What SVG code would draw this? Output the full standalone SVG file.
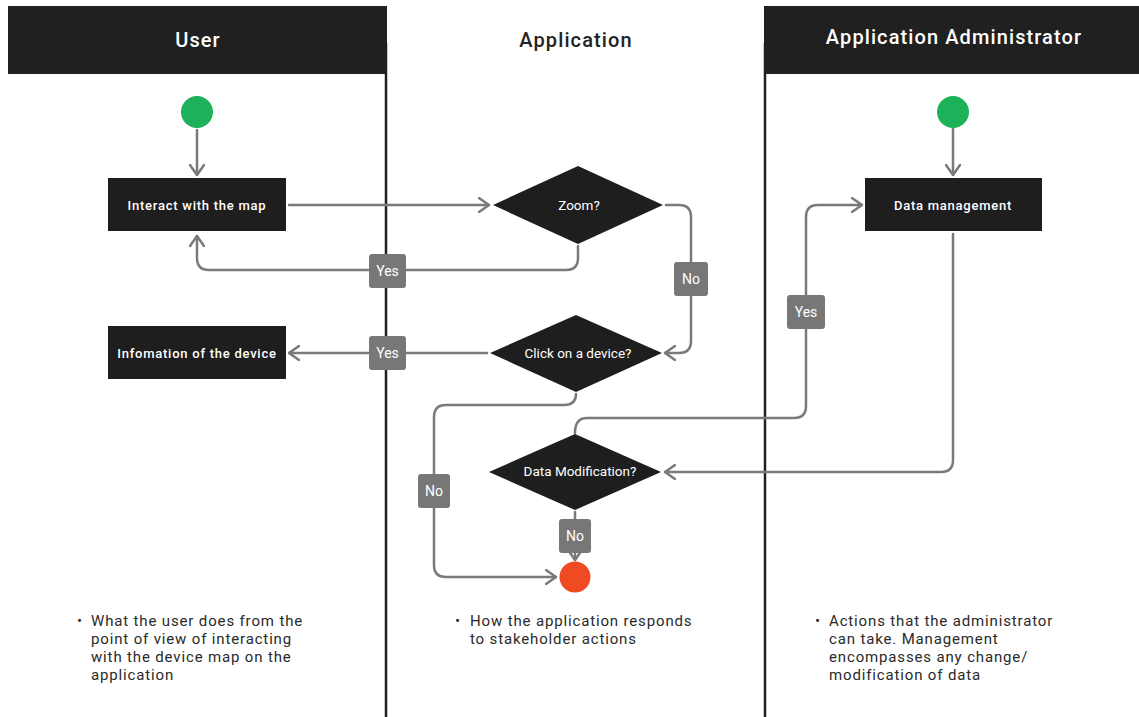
<svg xmlns="http://www.w3.org/2000/svg" width="1139" height="717" viewBox="0 0 1139 717">
<style>
.hdr{fill:#202020}
.lane{stroke:#202020;stroke-width:2.5}
.ht{font-family:Roboto,"Liberation Sans",sans-serif;font-size:20px;font-weight:500;text-anchor:middle;letter-spacing:1.1px}
.box{fill:#1e1e1e}
.nt{font-family:Roboto,"Liberation Sans",sans-serif;font-size:13px;font-weight:500;fill:#fff;text-anchor:middle;dominant-baseline:central;letter-spacing:0.75px}
.dt{font-family:Roboto,"Liberation Sans",sans-serif;font-size:13.5px;fill:#fff;text-anchor:middle;dominant-baseline:central}
.c{fill:none;stroke:#7a7a7a;stroke-width:2.5;stroke-linecap:round;stroke-linejoin:round}
.lb{fill:#777}
.lt{font-family:Roboto,"Liberation Sans",sans-serif;font-size:14px;fill:#fff;text-anchor:middle;dominant-baseline:central}
.note{font-family:Roboto,"Liberation Sans",sans-serif;font-size:15px;fill:#2a2a2a;letter-spacing:0.85px}
</style>
<defs>
<marker id="ah" viewBox="0 0 12 16" refX="11" refY="8" markerWidth="12" markerHeight="16" markerUnits="userSpaceOnUse" orient="auto">
<path d="M1,1 L11,8 L1,15" fill="none" stroke="#7a7a7a" stroke-width="2.5" stroke-linecap="round" stroke-linejoin="round"/>
</marker>
</defs>
<rect width="1139" height="717" fill="#fff"/>
<g id="lanes">
<rect class="hdr" x="8" y="6" width="379" height="68"/>
<rect class="hdr" x="764" y="6" width="375" height="68"/>
<line class="lane" x1="386" y1="43" x2="386" y2="717"/>
<line class="lane" x1="765" y1="43" x2="765" y2="717"/>
<text class="ht" x="198" y="47" fill="#fff">User</text>
<text class="ht" x="576" y="47" fill="#222">Application</text>
<text class="ht" x="954" y="44" fill="#fff">Application Administrator</text>
</g>
<g id="connectors">
<path class="c" d="M197,130 L197,175" marker-end="url(#ah)"/>
<path class="c" d="M289,205 L489,205" marker-end="url(#ah)"/>
<path class="c" d="M578,246 L578,258 Q578,270 566,270 L209,270 Q197,270 197,258 L197,236" marker-end="url(#ah)"/>
<path class="c" d="M666,205 L679,205 Q691,205 691,217 L691,341 Q691,353 679,353 L665,353" marker-end="url(#ah)"/>
<path class="c" d="M487,353 L289,353" marker-end="url(#ah)"/>
<path class="c" d="M576,394 Q576,405 564,405 L446,405 Q434,405 434,417 L434,565 Q434,577 446,577 L556,577" marker-end="url(#ah)"/>
<path class="c" d="M575,433 Q575,418 587,418 L794,418 Q806,418 806,406 L806,217 Q806,205 818,205 L862,205" marker-end="url(#ah)"/>
<path class="c" d="M953,129 L953,175" marker-end="url(#ah)"/>
<path class="c" d="M953,234 L953,460 Q953,472 941,472 L665,472" marker-end="url(#ah)"/>
<path class="c" d="M575,512 L575,560" marker-end="url(#ah)"/>
<rect class="lb" x="369" y="254" width="37" height="34" rx="3"/>
<text class="lt" x="387.5" y="271">Yes</text>
<rect class="lb" x="674" y="262" width="34" height="34" rx="3"/>
<text class="lt" x="691" y="279">No</text>
<rect class="lb" x="369" y="336" width="37" height="34" rx="3"/>
<text class="lt" x="387.5" y="353">Yes</text>
<rect class="lb" x="418" y="474" width="32" height="34" rx="3"/>
<text class="lt" x="434" y="491">No</text>
<rect class="lb" x="787" y="295" width="38" height="34" rx="3"/>
<text class="lt" x="806" y="312">Yes</text>
<rect class="lb" x="559" y="519" width="32" height="34" rx="3"/>
<text class="lt" x="575" y="536">No</text>
</g>
<g id="start-user"><circle cx="197" cy="112" r="16" fill="#1db15a"/></g>
<g id="start-admin"><circle cx="953" cy="112" r="16" fill="#1db15a"/></g>
<g id="interact"><rect class="box" x="108" y="178" width="178" height="53"/><text class="nt" x="197" y="205">Interact with the map</text></g>
<g id="info"><rect class="box" x="108" y="326" width="178" height="53"/><text class="nt" x="197" y="353">Infomation of the device</text></g>
<g id="datamgmt"><rect class="box" x="865" y="178" width="177" height="53"/><text class="nt" x="953" y="205">Data management</text></g>
<g id="zoom"><polygon class="box" points="578,166 663,205 578,244 493,205"/><text class="dt" x="579" y="205">Zoom?</text></g>
<g id="click"><polygon class="box" points="576,315 662,353 576,392 490,353"/><text class="dt" x="578" y="353">Click on a device?</text></g>
<g id="datamod"><polygon class="box" points="575,434 661,472 575,510 489,472"/><text class="dt" x="580" y="471">Data Modification?</text></g>
<g id="end"><circle cx="575" cy="577" r="15.5" fill="#f04a23"/></g>
<g id="notes">
<text class="note"><tspan x="77" y="626">•</tspan><tspan x="91" y="626">What the user does from the</tspan><tspan x="91" y="644">point of view of interacting</tspan><tspan x="91" y="662">with the device map on the</tspan><tspan x="91" y="680">application</tspan></text>
<text class="note"><tspan x="455" y="626">•</tspan><tspan x="470" y="626">How the application responds</tspan><tspan x="470" y="644">to stakeholder actions</tspan></text>
<text class="note"><tspan x="815" y="626">•</tspan><tspan x="829" y="626">Actions that the administrator</tspan><tspan x="829" y="644">can take. Management</tspan><tspan x="829" y="662">encompasses any change/</tspan><tspan x="829" y="680">modification of data</tspan></text>
</g>
</svg>
